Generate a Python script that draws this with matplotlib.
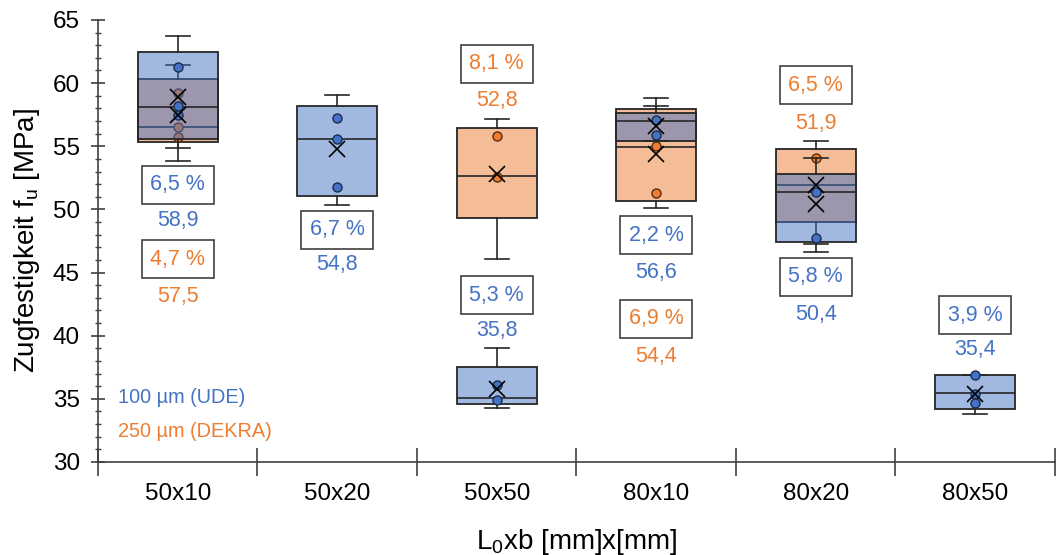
import numpy as np
import matplotlib
matplotlib.use('Agg')
import matplotlib.pyplot as plt
from matplotlib.colors import to_rgba

plt.rcParams['font.family'] = ['Liberation Sans', 'DejaVu Sans']

# data
categories = ['50x10', '50x20', '50x50', '80x10', '80x20', '80x50']

# 100 µm (UDE)
ude_whislo = [54.9, 50.35, 34.3, 55.44, 46.6, 33.78]
ude_q1 = [55.6, 51.06, 34.6, 55.44, 47.45, 34.2]
ude_med = [58.1, 55.6, 35.1, 57.03, 51.35, 35.44]
ude_q3 = [62.5, 58.19, 37.5, 57.6, 52.8, 36.89]
ude_whishi = [63.7, 59.06, 39.05, 58.19, 54.1, 36.9]
ude_mean = [58.9, 54.8, 35.8, 56.6, 50.4, 35.4]
ude_points = [[61.3, 58.2, 57.5], [57.2, 55.6, 51.8], [36.1, 34.9],
              [57.1, 55.9], [51.35, 47.76], [36.9, 35.4, 34.65]]
ude_cv = [6.5, 6.7, 5.3, 2.2, 5.8, 3.9]

# 250 µm (DEKRA), None where there is no test series
dekra_whislo = [53.8, None, 46.05, 50.08, 47.3, None]
dekra_q1 = [55.35, None, 49.3, 50.7, 49.03, None]
dekra_med = [56.55, None, 52.64, 54.97, 51.93, None]
dekra_q3 = [60.3, None, 56.47, 57.93, 54.76, None]
dekra_whishi = [61.4, None, 57.13, 58.8, 55.4, None]
dekra_mean = [57.5, None, 52.8, 54.4, 51.9, None]
dekra_points = [[59.2, 56.55, 55.7], None, [55.8, 52.6], [55.0, 51.27], [54.1], None]
dekra_cv = [4.7, None, 8.1, 6.9, 6.5, None]

# label placement (y of cv box, y of mean text)
ude_lbl_y = [(51.96, 49.16), (48.37, 45.6), (43.2, 40.45), (47.95, 44.99), (44.67, 41.64), (41.61, 38.87)]
dekra_lbl_y = [(46.07, 43.14), None, (61.54, 58.66), (41.35, 38.34), (59.83, 56.82), None]

BLUE = '#4472C4'
ORANGE = '#ED7D31'
EDGE = '#262626'


def fmt(v):
    return f'{v:.1f}'.replace('.', ',')


def draw_series(ax, whislo, q1, med, q3, whishi, points, color, mec, z):
    stats, pos = [], []
    for i in range(len(categories)):
        if q1[i] is None:
            continue
        stats.append(dict(whislo=whislo[i], q1=q1[i], med=med[i], q3=q3[i], whishi=whishi[i], fliers=[]))
        pos.append(i)
    ax.bxp(stats, positions=pos, widths=0.5, capwidths=0.15, patch_artist=True, showfliers=False,
           boxprops=dict(facecolor=to_rgba(color, 0.5), edgecolor=EDGE, linewidth=1.3),
           medianprops=dict(color=EDGE, linewidth=1.2),
           whiskerprops=dict(color=EDGE, linewidth=1.2),
           capprops=dict(color=EDGE, linewidth=1.2), zorder=z)
    for i in pos:
        ax.plot([i] * len(points[i]), points[i], 'o', ms=6.5, mfc=color, mec=mec, mew=1.0, zorder=z + 0.5)


fig = plt.figure(figsize=(10.56, 5.55), dpi=100)
ax = fig.add_axes([0.0928, 0.1676, 0.9062, 0.7964])

draw_series(ax, dekra_whislo, dekra_q1, dekra_med, dekra_q3, dekra_whishi, dekra_points,
            ORANGE, '#5a2a0a', 2)
draw_series(ax, ude_whislo, ude_q1, ude_med, ude_q3, ude_whishi, ude_points,
            BLUE, '#1c2c4c', 3)

# mean markers
for means in (ude_mean, dekra_mean):
    xs = [i for i, m in enumerate(means) if m is not None]
    ax.plot(xs, [means[i] for i in xs], 'x', ms=12, mew=1.2, color='black', zorder=5)

# cv boxes and mean labels
for cvs, means, lbl, color in ((ude_cv, ude_mean, ude_lbl_y, BLUE), (dekra_cv, dekra_mean, dekra_lbl_y, ORANGE)):
    for i, cv in enumerate(cvs):
        if cv is None:
            continue
        yb, ym = lbl[i]
        ax.text(i, yb, fmt(cv) + ' %', color=color, fontsize=15.5, ha='center', va='center',
                bbox=dict(boxstyle='square,pad=0.4', fc='white', ec='#404040', lw=1.2))
        ax.text(i, ym, fmt(means[i]), color=color, fontsize=15.5, ha='center', va='center')

ax.text(-0.375, 35.07, '100 µm (UDE)', color=BLUE, fontsize=14.3, ha='left', va='center')
ax.text(-0.375, 32.38, '250 µm (DEKRA)', color=ORANGE, fontsize=14.3, ha='left', va='center')

ax.set_xlim(-0.5, 5.5)
ax.set_ylim(30, 65)
ax.set_yticks(np.arange(30, 66, 5))
ax.set_yticks(np.arange(30, 66, 1), minor=True)
ax.set_xticks(np.arange(-0.5, 5.6, 1))
ax.set_xticklabels([])
ax.set_xticks(np.arange(6), minor=True)
ax.set_xticklabels(categories, minor=True)
ax.tick_params(axis='x', which='minor', length=0, labelsize=17.5, pad=15)
ax.tick_params(axis='x', which='major', direction='inout', length=20, color='#404040', width=1.2)
ax.tick_params(axis='y', which='major', direction='inout', length=10, color='#404040', width=1.2,
               labelsize=17.5, pad=8)
ax.tick_params(axis='y', which='minor', direction='inout', length=5, color='#404040', width=1.0)
for s in ('top', 'right'):
    ax.spines[s].set_visible(False)
for s in ('left', 'bottom'):
    ax.spines[s].set_color('#404040')
    ax.spines[s].set_linewidth(1.2)

ax.set_ylabel(r'Zugfestigkeit f$_\mathregular{u}$ [MPa]', fontsize=20, labelpad=8)
ax.set_xlabel(r'L$_\mathregular{0}$xb [mm]x[mm]', fontsize=20, labelpad=16)

fig.savefig('out.png', dpi=100)
